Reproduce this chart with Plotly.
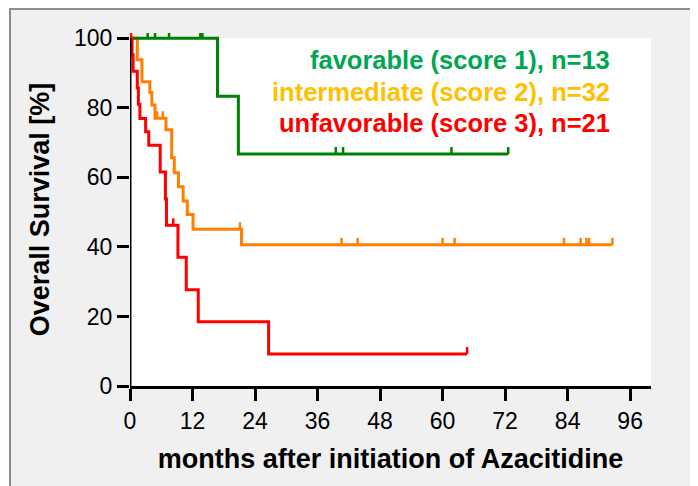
import plotly.graph_objects as go

# ---------------- data ----------------
months_ticks = [0, 12, 24, 36, 48, 60, 72, 84, 96]
survival_ticks = [0, 20, 40, 60, 80, 100]

# favorable (score 1), n=13
fav_t = [0, 16.8, 20.8, 72.6]
fav_s = [100, 83.3, 66.7, 66.7]
fav_cens_t = [3.4, 4.8, 7.5, 13.5, 13.9, 39.5, 40.9, 61.7, 72.6]
fav_cens_s = [100, 100, 100, 100, 100, 66.7, 66.7, 66.7, 66.7]

# intermediate (score 2), n=32
int_t = [0, 1.4, 2.3, 3.8, 4.2, 4.8, 6.9, 8.0, 8.5, 9.3, 10.2, 11.0, 12.1, 21.4, 92.6]
int_s = [100, 93.8, 87.5, 84.4, 80.8, 77.0, 73.7, 65.6, 61.3, 57.3, 53.2, 49.3, 45.1, 40.6, 40.6]
int_cens_t = [5.2, 6.3, 21.1, 40.6, 43.7, 60.0, 62.3, 83.3, 86.5, 87.6, 88.1, 92.6]
int_cens_s = [77.0, 77.0, 45.1, 40.6, 40.6, 40.6, 40.6, 40.6, 40.6, 40.6, 40.6, 40.6]

# unfavorable (score 3), n=21
unf_t = [0, 0.4, 0.6, 1.4, 1.6, 1.9, 3.0, 3.6, 5.8, 6.8, 7.0, 9.2, 10.8, 13.1, 26.6, 64.7]
unf_s = [100, 95.2, 90.5, 85.7, 81.0, 76.9, 73.1, 69.2, 61.5, 53.8, 46.2, 37.0, 27.7, 18.5, 9.2, 9.2]
unf_cens_t = [0.2, 8.3, 64.7]
unf_cens_s = [100, 46.2, 9.2]

legend_labels = ["favorable (score 1), n=13",
                 "intermediate (score 2), n=32",
                 "unfavorable (score 3), n=21"]
legend_y = [93.8, 84.5, 75.6]

# ---------------- style ----------------
FONT = "Liberation Sans, Arial, sans-serif"
line_colors = ["#008000", "#ff8000", "#ff0000"]
text_colors = ["#00a651", "#ffc000", "#ff0000"]
TICK_LEN = 2.0  # censor tick height in % units

fig = go.Figure()

series = [
    (int_t, int_s, int_cens_t, int_cens_s, line_colors[1]),
    (fav_t, fav_s, fav_cens_t, fav_cens_s, line_colors[0]),
    (unf_t, unf_s, unf_cens_t, unf_cens_s, line_colors[2]),
]
for t, s, ct, cs, col in series:
    fig.add_trace(go.Scatter(x=t, y=s, mode="lines", line=dict(color=col, width=3, shape="hv"),
                             showlegend=False, hoverinfo="skip"))
    fig.add_trace(go.Scatter(x=ct, y=cs, mode="markers", marker=dict(size=1, color=col, opacity=0),
                             error_y=dict(type="data", symmetric=False,
                                          array=[TICK_LEN] * len(ct), arrayminus=[0] * len(ct),
                                          width=0, thickness=2.5, color=col),
                             cliponaxis=False, showlegend=False, hoverinfo="skip"))

for lab, yv, col in zip(legend_labels, legend_y, text_colors):
    fig.add_annotation(x=92.5, y=yv, xref="x", yref="y", text=lab, showarrow=False,
                       xanchor="right", yanchor="middle",
                       font=dict(family=FONT, size=25.5, color=col, weight="bold"))

# background frame + white plotting area
fig.add_shape(type="rect", xref="paper", yref="paper", x0=-0.2303, x1=1.3, y0=-0.35, y1=1.068,
              fillcolor="#f0f0f0", line=dict(color="#8c8c8c", width=2), layer="below")
fig.add_shape(type="rect", xref="x", yref="y", x0=0, x1=100, y0=0, y1=100,
              fillcolor="white", line=dict(width=0), layer="below")
# y axis line ending at 100
fig.add_shape(type="line", xref="x", yref="y", x0=0, x1=0, y0=0, y1=100,
              line=dict(color="black", width=3), layer="above")

fig.update_layout(
    width=690, height=478,
    margin=dict(l=122, r=47, t=25, b=100),
    paper_bgcolor="white", plot_bgcolor="rgba(0,0,0,0)",
    font=dict(family=FONT, color="black"),
    xaxis=dict(range=[0, 100], tickmode="array", tickvals=months_ticks,
               ticks="outside", ticklen=12, tickwidth=3, tickcolor="black",
               showline=True, linewidth=3, linecolor="black", showgrid=False, zeroline=False,
               tickfont=dict(size=23, family=FONT),
               title=dict(text="months after initiation of Azacitidine", standoff=17,
                          font=dict(size=27, family=FONT, weight="bold"))),
    yaxis=dict(range=[0, 101.5], tickmode="array", tickvals=survival_ticks,
               ticks="outside", ticklen=12, tickwidth=3, tickcolor="black",
               showline=False, showgrid=False, zeroline=False,
               tickfont=dict(size=23, family=FONT),
               title=dict(text="Overall Survival [%]", standoff=16,
                          font=dict(size=27, family=FONT, weight="bold"))),
)

fig.write_html("out.html")
